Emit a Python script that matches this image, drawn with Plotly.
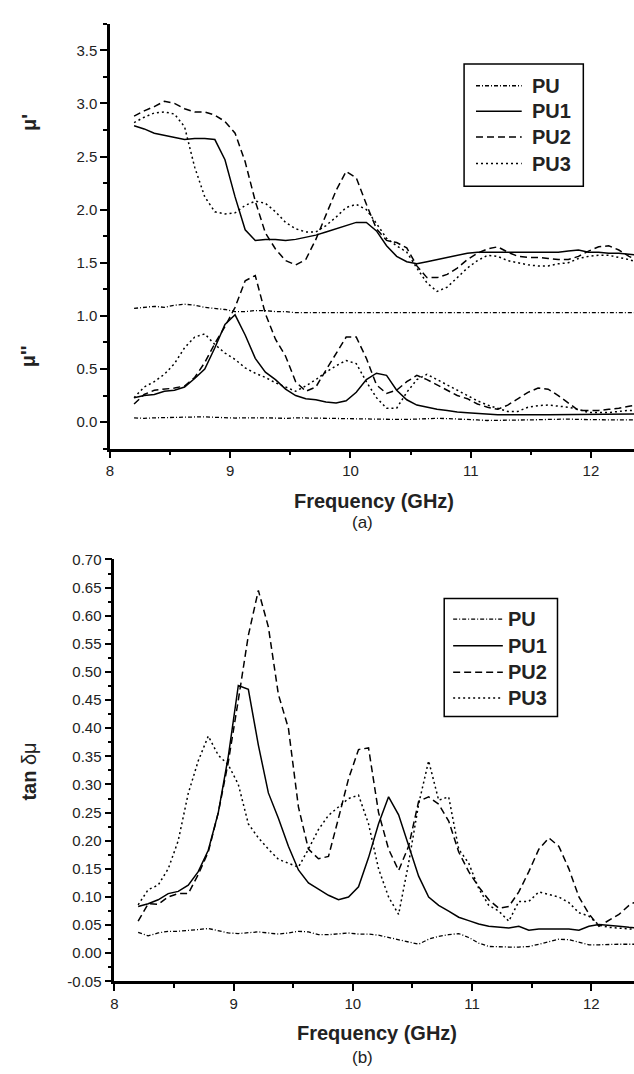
import plotly.graph_objects as go

freq = [8.200, 8.284, 8.368, 8.452, 8.536, 8.620, 8.704, 8.788, 8.872, 8.956,
        9.040, 9.124, 9.208, 9.292, 9.376, 9.460, 9.544, 9.628, 9.712, 9.796,
        9.880, 9.964, 10.048, 10.132, 10.216, 10.300, 10.384, 10.468, 10.552, 10.636,
        10.720, 10.804, 10.888, 10.972, 11.056, 11.140, 11.224, 11.308, 11.392, 11.476,
        11.560, 11.644, 11.728, 11.812, 11.896, 11.980, 12.064, 12.148, 12.232, 12.316,
        12.400]

series = ["PU", "PU1", "PU2", "PU3"]

# real part mu'
mu_r_PU = [1.07, 1.08, 1.09, 1.08, 1.10, 1.11, 1.10, 1.08, 1.07, 1.06,
           1.04, 1.04, 1.05, 1.05, 1.04, 1.04, 1.03, 1.03, 1.03, 1.03,
           1.03, 1.03, 1.03, 1.03, 1.03, 1.03, 1.03, 1.03, 1.03, 1.03,
           1.03, 1.03, 1.03, 1.03, 1.03, 1.03, 1.03, 1.03, 1.03, 1.03,
           1.03, 1.03, 1.03, 1.03, 1.03, 1.03, 1.03, 1.03, 1.03, 1.03,
           1.03]
mu_r_PU1 = [2.79, 2.76, 2.72, 2.70, 2.68, 2.66, 2.67, 2.67, 2.66, 2.47,
            2.12, 1.81, 1.71, 1.72, 1.72, 1.71, 1.72, 1.74, 1.76, 1.79,
            1.82, 1.85, 1.88, 1.88, 1.80, 1.66, 1.56, 1.51, 1.49, 1.51,
            1.53, 1.55, 1.57, 1.59, 1.60, 1.60, 1.60, 1.60, 1.60, 1.60,
            1.60, 1.60, 1.60, 1.61, 1.62, 1.60, 1.60, 1.59, 1.59, 1.58,
            1.57]
mu_r_PU2 = [2.88, 2.93, 2.97, 3.02, 3.00, 2.95, 2.92, 2.92, 2.89, 2.83,
            2.72, 2.45, 2.08, 1.78, 1.63, 1.52, 1.48, 1.53, 1.72, 1.95,
            2.18, 2.36, 2.30, 2.05, 1.82, 1.71, 1.69, 1.64, 1.47, 1.36,
            1.36, 1.39, 1.45, 1.53, 1.59, 1.63, 1.65, 1.60, 1.56, 1.55,
            1.55, 1.54, 1.53, 1.53, 1.56, 1.61, 1.65, 1.66, 1.62, 1.56,
            1.52]
mu_r_PU3 = [2.82, 2.87, 2.91, 2.92, 2.90, 2.78, 2.40, 2.12, 1.98, 1.96,
            1.97, 2.04, 2.08, 2.06, 1.98, 1.88, 1.82, 1.79, 1.79, 1.85,
            1.93, 2.02, 2.05, 2.00, 1.87, 1.73, 1.66, 1.60, 1.45, 1.31,
            1.23, 1.27, 1.36, 1.45, 1.52, 1.57, 1.56, 1.52, 1.50, 1.48,
            1.47, 1.47, 1.49, 1.50, 1.54, 1.56, 1.57, 1.57, 1.55, 1.53,
            1.50]

# imaginary part mu''
mu_i_PU = [0.040, 0.035, 0.040, 0.042, 0.045, 0.045, 0.048, 0.050, 0.045, 0.040,
           0.038, 0.040, 0.042, 0.040, 0.038, 0.035, 0.040, 0.038, 0.035, 0.033,
           0.035, 0.035, 0.030, 0.030, 0.028, 0.026, 0.025, 0.025, 0.030, 0.035,
           0.035, 0.033, 0.030, 0.030, 0.020, 0.015, 0.015, 0.015, 0.018, 0.020,
           0.022, 0.025, 0.028, 0.028, 0.025, 0.022, 0.020, 0.020, 0.020, 0.020,
           0.020]
mu_i_PU1 = [0.23, 0.25, 0.26, 0.29, 0.30, 0.33, 0.41, 0.50, 0.70, 0.92,
            1.01, 0.82, 0.60, 0.47, 0.40, 0.31, 0.25, 0.22, 0.21, 0.19,
            0.18, 0.20, 0.28, 0.40, 0.46, 0.44, 0.30, 0.21, 0.16, 0.14,
            0.12, 0.11, 0.095, 0.088, 0.080, 0.075, 0.070, 0.070, 0.068, 0.065,
            0.068, 0.070, 0.070, 0.070, 0.072, 0.075, 0.077, 0.077, 0.077, 0.077,
            0.077]
mu_i_PU2 = [0.17, 0.26, 0.30, 0.31, 0.32, 0.34, 0.42, 0.56, 0.74, 0.90,
            1.08, 1.33, 1.38, 1.02, 0.78, 0.62, 0.38, 0.29, 0.33, 0.49,
            0.64, 0.80, 0.80, 0.60, 0.35, 0.27, 0.30, 0.38, 0.44, 0.40,
            0.35, 0.30, 0.25, 0.22, 0.17, 0.14, 0.12, 0.16, 0.22, 0.28,
            0.32, 0.31, 0.25, 0.18, 0.11, 0.11, 0.11, 0.12, 0.13, 0.15,
            0.16]
mu_i_PU3 = [0.23, 0.33, 0.38, 0.45, 0.55, 0.70, 0.80, 0.83, 0.73, 0.65,
            0.59, 0.51, 0.46, 0.42, 0.37, 0.33, 0.29, 0.34, 0.40, 0.47,
            0.53, 0.58, 0.55, 0.38, 0.23, 0.13, 0.13, 0.28, 0.40, 0.45,
            0.40, 0.35, 0.30, 0.25, 0.20, 0.16, 0.13, 0.10, 0.10, 0.14,
            0.155, 0.16, 0.15, 0.14, 0.12, 0.09, 0.09, 0.09, 0.10, 0.11,
            0.11]

# loss tangent
tan_PU = [0.037, 0.031, 0.036, 0.039, 0.039, 0.040, 0.042, 0.044, 0.040, 0.036,
          0.035, 0.037, 0.038, 0.036, 0.034, 0.036, 0.039, 0.038, 0.033, 0.033,
          0.035, 0.036, 0.034, 0.034, 0.032, 0.028, 0.024, 0.020, 0.016, 0.025,
          0.030, 0.033, 0.035, 0.028, 0.018, 0.012, 0.011, 0.011, 0.011, 0.012,
          0.016, 0.021, 0.025, 0.024, 0.020, 0.015, 0.015, 0.016, 0.016, 0.016,
          0.016]
tan_PU1 = [0.083, 0.088, 0.095, 0.106, 0.110, 0.121, 0.145, 0.183, 0.250, 0.350,
           0.476, 0.469, 0.370, 0.285, 0.240, 0.190, 0.148, 0.125, 0.114, 0.103,
           0.095, 0.100, 0.118, 0.170, 0.230, 0.278, 0.246, 0.190, 0.137, 0.100,
           0.085, 0.075, 0.064, 0.058, 0.052, 0.048, 0.046, 0.045, 0.048, 0.041,
           0.043, 0.043, 0.043, 0.043, 0.041, 0.048, 0.051, 0.050, 0.048, 0.046,
           0.045]
tan_PU2 = [0.057, 0.088, 0.087, 0.100, 0.106, 0.106, 0.140, 0.180, 0.250, 0.340,
           0.450, 0.565, 0.645, 0.580, 0.460, 0.400, 0.260, 0.185, 0.168, 0.172,
           0.240, 0.310, 0.362, 0.365, 0.250, 0.185, 0.147, 0.190, 0.270, 0.278,
           0.265, 0.235, 0.180, 0.145, 0.118, 0.095, 0.080, 0.083, 0.109, 0.145,
           0.185, 0.205, 0.190, 0.150, 0.100, 0.070, 0.048, 0.058, 0.069, 0.085,
           0.095]
tan_PU3 = [0.086, 0.113, 0.121, 0.150, 0.200, 0.284, 0.342, 0.386, 0.352, 0.335,
           0.300, 0.230, 0.205, 0.185, 0.167, 0.160, 0.153, 0.185, 0.220, 0.245,
           0.260, 0.275, 0.281, 0.230, 0.150, 0.100, 0.069, 0.160, 0.265, 0.342,
           0.272, 0.278, 0.185, 0.160, 0.115, 0.085, 0.075, 0.057, 0.092, 0.092,
           0.109, 0.105, 0.100, 0.090, 0.072, 0.066, 0.050, 0.046, 0.045, 0.043,
           0.042]

top_yticks = [0.0, 0.5, 1.0, 1.5, 2.0, 2.5, 3.0, 3.5]
bot_yticks = [-0.05, 0.00, 0.05, 0.10, 0.15, 0.20, 0.25, 0.30, 0.35,
              0.40, 0.45, 0.50, 0.55, 0.60, 0.65, 0.70]
bot_yticktext = ["-0.05", "0.00", "0.05", "0.10", "0.15", "0.20", "0.25", "0.30",
                 "0.35", "0.40", "0.45", "0.50", "0.55", "0.60", "0.65", "0.70"]

mu_r = [mu_r_PU, mu_r_PU1, mu_r_PU2, mu_r_PU3]
mu_i = [mu_i_PU, mu_i_PU1, mu_i_PU2, mu_i_PU3]
tan_d = [tan_PU, tan_PU1, tan_PU2, tan_PU3]

styles = {
    "PU": dict(color="black", width=1.3, dash="4px,2px,1px,2px"),
    "PU1": dict(color="black", width=1.5, dash="solid"),
    "PU2": dict(color="black", width=1.5, dash="7px,4px"),
    "PU3": dict(color="black", width=1.5, dash="2px,3px"),
}

fig = go.Figure()

for name, yr, yi in zip(series, mu_r, mu_i):
    fig.add_trace(go.Scatter(x=freq, y=yr, mode="lines", name=name, line=styles[name],
                             xaxis="x", yaxis="y", showlegend=False))
    fig.add_trace(go.Scatter(x=freq, y=yi, mode="lines", name=name, line=styles[name],
                             xaxis="x", yaxis="y", showlegend=False))

for name, yt in zip(series, tan_d):
    fig.add_trace(go.Scatter(x=freq, y=yt, mode="lines", name=name, line=styles[name],
                             xaxis="x2", yaxis="y2", showlegend=False))

FONT = "Liberation Sans, Arial, sans-serif"
tickfont = dict(family=FONT, size=15, color="#222")

axis_common = dict(showline=True, linecolor="black", linewidth=2.5, ticks="outside",
                   ticklen=7, tickwidth=2, tickcolor="black", showgrid=False,
                   zeroline=False, tickfont=tickfont, mirror=False)

W, H = 634, 1074

fig.update_layout(
    width=W, height=H,
    margin=dict(l=0, r=0, t=0, b=0),
    paper_bgcolor="white", plot_bgcolor="white",
    font=dict(family=FONT, color="#222"),
    showlegend=False,
    xaxis=dict(domain=[106.7 / W, 1.0], range=[8, 12.358], anchor="y", dtick=1, tick0=8,
               minor=dict(dtick=0.5, ticks="outside", ticklen=4, tickwidth=2, tickcolor="black"),
               **axis_common),
    yaxis=dict(domain=[1 - 446.7 / H, 1 - 15 / H], range=[-0.25, 3.75], anchor="x",
               tickvals=top_yticks, tickformat=".1f",
               minor=dict(dtick=0.25, tick0=0, ticks="outside", ticklen=4, tickwidth=2, tickcolor="black"),
               **axis_common),
    xaxis2=dict(domain=[111 / W, 1.0], range=[8, 12.358], anchor="y2", dtick=1, tick0=8,
                minor=dict(dtick=0.5, ticks="outside", ticklen=4, tickwidth=2, tickcolor="black"),
                **axis_common),
    yaxis2=dict(domain=[1 - 988 / H, 1 - 559.3 / H], range=[-0.05, 0.70], anchor="x2",
                tickvals=bot_yticks, ticktext=bot_yticktext,
                minor=dict(dtick=0.025, tick0=0, ticks="outside", ticklen=4, tickwidth=2, tickcolor="black"),
                **axis_common),
)

# legend boxes (drawn as key panels in pixel layout)
def add_key(box, rows_y, line_x0, line_x1, text_x):
    x0, y0, x1, y1 = box
    fig.add_shape(type="rect", xref="paper", yref="paper",
                  x0=x0 / W, x1=x1 / W, y0=1 - y1 / H, y1=1 - y0 / H,
                  line=dict(color="black", width=1.5), fillcolor="white", layer="above")
    for name, ry in zip(series, rows_y):
        fig.add_shape(type="line", xref="paper", yref="paper",
                      x0=line_x0 / W, x1=line_x1 / W, y0=1 - ry / H, y1=1 - ry / H,
                      line=styles[name], layer="above")
        fig.add_annotation(xref="paper", yref="paper", x=text_x / W, y=1 - ry / H,
                           text=name, showarrow=False, xanchor="left", yanchor="middle",
                           font=dict(family=FONT, size=20, color="#222", weight="bold"))

add_key((463, 56, 583, 180), [78, 104, 130, 157], 475, 521, 529)
add_key((443, 599, 557, 719), [620, 647, 674, 700], 452, 502, 505)

ann_font_bold = dict(family=FONT, size=20, color="#222", weight="bold")
ann_font = dict(family=FONT, size=17, color="#222")

annotations = [
    dict(text="Frequency (GHz)", x=372 / W, y=1 - 500 / H, font=ann_font_bold),
    dict(text="(a)", x=361 / W, y=1 - 522 / H, font=ann_font),
    dict(text="Frequency (GHz)", x=375 / W, y=1 - 1040 / H, font=ann_font_bold),
    dict(text="(b)", x=361 / W, y=1 - 1065 / H, font=ann_font),
    dict(text="μ'", x=25 / W, y=1 - 115 / H, textangle=-90, font=ann_font_bold),
    dict(text="μ''", x=25 / W, y=1 - 353 / H, textangle=-90, font=ann_font_bold),
    dict(text="<b>tan</b> δμ", x=25 / W, y=1 - 775 / H, textangle=-90,
         font=dict(family=FONT, size=20, color="#222")),
]
for a in annotations:
    fig.add_annotation(xref="paper", yref="paper", showarrow=False,
                       xanchor="center", yanchor="middle", **a)

fig.write_html("out.html")
